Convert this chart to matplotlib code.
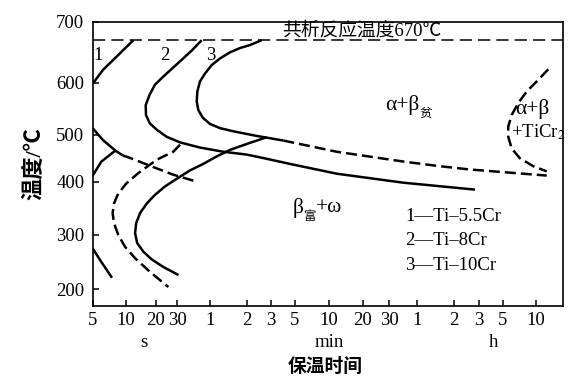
import numpy as np
import matplotlib
matplotlib.use("Agg")
import matplotlib.pyplot as plt
from matplotlib.ticker import FixedLocator, FixedFormatter

plt.rcParams['font.family'] = ['Liberation Serif', 'Noto Sans CJK SC']
plt.rcParams['mathtext.fontset'] = 'stix'

# --- data: time in seconds, temperature in C ---
eutectoid_T = 670

# curve 1 (Ti-5.5Cr)
c1_top_t = [5, 6.2, 8.6, 11.9]
c1_top_T = [598, 621, 646, 670]
c1_mid_t = [5, 6.2, 8.0, 9.4]
c1_mid_T = [513, 489, 467, 456]
c1_mid_dash_t = [9.4, 11.0, 17.4, 27.8, 43.8]
c1_mid_dash_T = [456, 451, 434, 415, 401]
c1_branch_t = [5, 6.0, 8.0]
c1_branch_T = [413, 443, 466]
c1_low_t = [5, 6.0, 7.5]
c1_low_T = [275, 250, 221]

# curve 2 (Ti-8Cr)
c2_t = [50.4, 40.9, 34.2, 27.9, 23.0, 19.5, 17.2, 15.8, 15.9, 17.4, 20.3, 24.6, 32,
        48.6, 77, 119, 167, 269, 702, 2563, 10120]
c2_T = [670, 653, 640, 625, 610, 596, 576, 557, 538, 522, 510, 496, 484,
        473, 464, 458, 449, 438, 417, 398, 385]
c2_low_t = [32, 27.9, 20.3, 13.3, 10.2, 8.56, 7.82, 7.6, 7.82, 8.56, 9.86, 12.4, 17.4, 25.4]
c2_low_T = [479, 464, 447, 418, 397, 378, 359, 341, 322, 300, 278, 257, 232, 204]

# curve 3 (Ti-10Cr)
c3_t = [153.6, 126, 105, 87.3, 72.4, 61.9, 54, 48.6, 46, 45.4, 46.9, 51.5, 60,
        72.4, 92.8, 141, 234]
c3_T = [670, 662, 657, 650, 640, 629, 615, 602, 583, 564, 548, 533, 521,
        513, 507, 498, 488]
c3_tail_t = [234, 702, 2563, 5540, 9330, 45080]
c3_tail_T = [488, 464, 443, 433, 426, 413]
c3_low_t = [167, 126, 87.3, 68, 52.1, 39.4, 29.8, 23.8, 19.5, 16.2, 13.9, 12.7, 12.4,
            13.0, 15.0, 18.1, 23.0, 31]
c3_low_T = [495, 483, 468, 454, 438, 424, 406, 391, 375, 359, 341, 322, 303,
            285, 269, 255, 241, 226]

# alpha + beta + TiCr2 boundary
ticr_t = [46600, 36530, 29600, 24800, 21600, 20100, 20100, 21600, 25700, 34000, 45080]
ticr_T = [622, 602, 583, 561, 538, 516, 496, 471, 450, 433, 422]

# axis as printed (positions along the axis, px)
x_ticks = [5, 10, 20, 30, 60, 120, 180, 300, 600, 1200, 1800, 3600, 7200, 10800, 18000, 36000]
x_tick_labels = ['5', '10', '20', '30', '1', '2', '3', '5', '10', '20', '30', '1', '2', '3', '5', '10']
x_tick_pos = [0, 33, 63.3, 84.3, 117.3, 154.3, 178.3, 202.3, 236.3, 270.3, 296.3, 324.3, 361.3, 386.3, 410.3, 443.3]
y_ticks = [200, 300, 400, 500, 600, 700]
y_tick_pos = [16.7, 71, 124.3, 171, 223.3, 284]


def piecewise(xp, fp):
    xp = np.asarray(xp, float)
    fp = np.asarray(fp, float)

    def f(v):
        v = np.asarray(v, float)
        out = np.interp(v, xp, fp)
        out = np.where(v < xp[0], fp[0] + (v - xp[0]) * (fp[1] - fp[0]) / (xp[1] - xp[0]), out)
        out = np.where(v > xp[-1], fp[-1] + (v - xp[-1]) * (fp[-1] - fp[-2]) / (xp[-1] - xp[-2]), out)
        return out
    return f


lx = np.log10(x_ticks)
_xf = piecewise(lx, x_tick_pos)
_xi = piecewise(x_tick_pos, lx)


def x_fwd(t):
    return _xf(np.log10(np.clip(np.asarray(t, float), 1e-9, None)))


def x_inv(p):
    return 10 ** _xi(p)


y_fwd = piecewise(y_ticks, y_tick_pos)
y_inv = piecewise(y_tick_pos, y_ticks)

fig = plt.figure(figsize=(5.77, 3.82), dpi=100)
ax = fig.add_axes([92.7 / 577, 1 - 306 / 382, 470.3 / 577, 284 / 382])
ax.set_xscale('function', functions=(x_fwd, x_inv))
ax.set_yscale('function', functions=(y_fwd, y_inv))
ax.set_xlim(5, 6.35e4)
ax.set_ylim(169, 700)

solid = dict(color='black', lw=1.8, solid_capstyle='butt', solid_joinstyle='round')
dashed = dict(color='black', lw=1.8, linestyle=(0, (4.4, 2.0)))

ax.axhline(eutectoid_T, color='black', lw=1.1, linestyle=(0, (8, 4)))

ax.plot(c1_top_t, c1_top_T, **solid)
ax.plot(c1_mid_t, c1_mid_T, **solid)
ax.plot(c1_mid_dash_t, c1_mid_dash_T, **dashed)
ax.plot(c1_branch_t, c1_branch_T, **solid)
ax.plot(c1_low_t, c1_low_T, **solid)

ax.plot(c2_t, c2_T, **solid)
ax.plot(c2_low_t, c2_low_T, **dashed)

ax.plot(c3_t, c3_T, **solid)
ax.plot(c3_tail_t, c3_tail_T, **dashed)
ax.plot(c3_low_t, c3_low_T, **solid)

ax.plot(ticr_t, ticr_T, **dashed)

fs = 13.5
gs = 15.5  # greek phase labels
ax.xaxis.set_major_locator(FixedLocator(x_ticks))
ax.xaxis.set_major_formatter(FixedFormatter(x_tick_labels))
ax.xaxis.set_minor_locator(FixedLocator([]))
ax.yaxis.set_major_locator(FixedLocator(y_ticks))
ax.yaxis.set_minor_locator(FixedLocator([]))
ax.tick_params(direction='in', length=4, width=1.1, labelsize=fs)
ax.tick_params(axis='x', pad=4)
ax.tick_params(axis='y', pad=6)
for s in ax.spines.values():
    s.set_linewidth(1.2)

# curve numbers
ax.text(5.6, 645, '1', fontsize=fs, ha='center', va='center')
ax.text(23.8, 645, '2', fontsize=fs, ha='center', va='center')
ax.text(60.8, 645, '3', fontsize=fs, ha='center', va='center')

ax.text(1180, 672, '共析反应温度670℃', fontsize=fs, ha='center', va='bottom')

t1 = ax.text(1690, 558, 'α+β', fontsize=gs, ha='left', va='center')
ax.annotate('贫', xy=(1.0, 0.05), xycoords=t1, fontsize=9, ha='left', va='center')

ax.text(23000, 550, 'α+β', fontsize=gs, ha='left', va='center')
ax.text(21500, 506, '+TiCr$_2$', fontsize=fs, ha='left', va='center')

t2 = ax.text(287, 351, 'β', fontsize=gs, ha='left', va='center')
t3 = ax.annotate('富', xy=(1.0, 0.05), xycoords=t2, fontsize=9, ha='left', va='center')
ax.annotate('+ω', xy=(1.0, 0.5), xycoords=(t3, t2), fontsize=gs, ha='left', va='center')

legend_lines = ['1—Ti–5.5Cr', '2—Ti–8Cr', '3—Ti–10Cr']
legend_T = [334, 289, 244]
for txt, T in zip(legend_lines, legend_T):
    ax.text(2675, T, txt, fontsize=fs, ha='left', va='center')

# time units and axis titles
ax.text(15.2, -0.13, 's', transform=ax.get_xaxis_transform(), fontsize=fs, ha='center', va='center')
ax.text(600, -0.13, 'min', transform=ax.get_xaxis_transform(), fontsize=fs, ha='center', va='center')
ax.text(14550, -0.13, 'h', transform=ax.get_xaxis_transform(), fontsize=fs, ha='center', va='center')
ax.text(0.494, -0.215, '保温时间', transform=ax.transAxes, fontsize=fs, fontweight='bold',
        ha='center', va='center')
ax.set_ylabel('温度/℃', fontsize=16, fontweight='bold')
ax.yaxis.set_label_coords(-0.10, 0.5)

fig.savefig('out.png', dpi=100)
